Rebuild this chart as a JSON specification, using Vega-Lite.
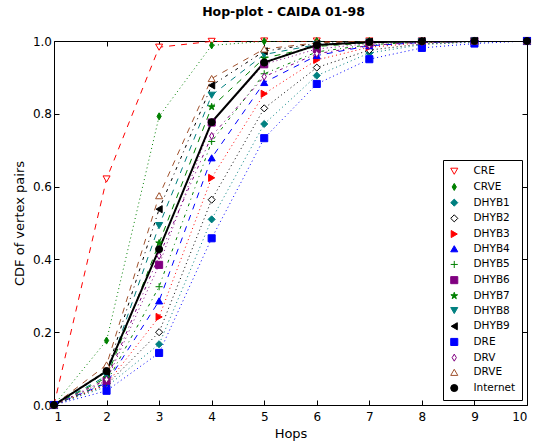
{
  "$schema": "https://vega.github.io/schema/vega-lite/v6.json",
  "width": 473,
  "height": 364,
  "autosize": {"type": "none"},
  "padding": {"left": 54, "top": 41, "right": 10, "bottom": 40},
  "background": "white",
  "title": {"text": "Hop-plot - CAIDA 01-98", "font": "DejaVu Sans", "fontSize": 12.5, "fontWeight": "bold", "color": "black", "offset": 17, "anchor": "middle", "dx": -7},
  "config": {
    "view": {"stroke": "black", "strokeWidth": 1},
    "font": "DejaVu Sans",
    "axis": {"labelFont": "DejaVu Sans", "labelFontSize": 12, "labelColor": "black", "titleFont": "DejaVu Sans", "titleFontSize": 13, "titleFontWeight": "normal", "titleColor": "black", "grid": false, "domain": false, "tickColor": "black", "tickSize": -5, "tickWidth": 1},
    "legend": {"title": null, "orient": "bottom-right", "offset": 5, "strokeColor": "black", "fillColor": "white", "padding": 6, "labelFont": "DejaVu Sans", "labelFontSize": 10.5, "labelColor": "black", "rowPadding": 3.7, "symbolSize": 50, "symbolStrokeWidth": 1, "labelOffset": 14, "cornerRadius": 0}
  },
  "data": {"values": [
    {"s":"CRE","h":1,"v":0},{"s":"CRE","h":2,"v":0.621},{"s":"CRE","h":3,"v":0.983},{"s":"CRE","h":4,"v":0.999},{"s":"CRE","h":5,"v":1},{"s":"CRE","h":6,"v":1},{"s":"CRE","h":7,"v":1},{"s":"CRE","h":8,"v":1},{"s":"CRE","h":9,"v":1},{"s":"CRE","h":10,"v":1},
    {"s":"CRVE","h":1,"v":0},{"s":"CRVE","h":2,"v":0.177},{"s":"CRVE","h":3,"v":0.793},{"s":"CRVE","h":4,"v":0.988},{"s":"CRVE","h":5,"v":0.999},{"s":"CRVE","h":6,"v":1},{"s":"CRVE","h":7,"v":1},{"s":"CRVE","h":8,"v":1},{"s":"CRVE","h":9,"v":1},{"s":"CRVE","h":10,"v":1},
    {"s":"DHYB1","h":1,"v":0},{"s":"DHYB1","h":2,"v":0.05},{"s":"DHYB1","h":3,"v":0.167},{"s":"DHYB1","h":4,"v":0.51},{"s":"DHYB1","h":5,"v":0.772},{"s":"DHYB1","h":6,"v":0.905},{"s":"DHYB1","h":7,"v":0.967},{"s":"DHYB1","h":8,"v":0.99},{"s":"DHYB1","h":9,"v":0.997},{"s":"DHYB1","h":10,"v":1},
    {"s":"DHYB2","h":1,"v":0},{"s":"DHYB2","h":2,"v":0.055},{"s":"DHYB2","h":3,"v":0.2},{"s":"DHYB2","h":4,"v":0.564},{"s":"DHYB2","h":5,"v":0.815},{"s":"DHYB2","h":6,"v":0.927},{"s":"DHYB2","h":7,"v":0.975},{"s":"DHYB2","h":8,"v":0.992},{"s":"DHYB2","h":9,"v":0.998},{"s":"DHYB2","h":10,"v":1},
    {"s":"DHYB3","h":1,"v":0},{"s":"DHYB3","h":2,"v":0.057},{"s":"DHYB3","h":3,"v":0.242},{"s":"DHYB3","h":4,"v":0.624},{"s":"DHYB3","h":5,"v":0.855},{"s":"DHYB3","h":6,"v":0.948},{"s":"DHYB3","h":7,"v":0.983},{"s":"DHYB3","h":8,"v":0.995},{"s":"DHYB3","h":9,"v":0.999},{"s":"DHYB3","h":10,"v":1},
    {"s":"DHYB4","h":1,"v":0},{"s":"DHYB4","h":2,"v":0.06},{"s":"DHYB4","h":3,"v":0.286},{"s":"DHYB4","h":4,"v":0.679},{"s":"DHYB4","h":5,"v":0.886},{"s":"DHYB4","h":6,"v":0.96},{"s":"DHYB4","h":7,"v":0.987},{"s":"DHYB4","h":8,"v":0.996},{"s":"DHYB4","h":9,"v":0.999},{"s":"DHYB4","h":10,"v":1},
    {"s":"DHYB5","h":1,"v":0},{"s":"DHYB5","h":2,"v":0.062},{"s":"DHYB5","h":3,"v":0.325},{"s":"DHYB5","h":4,"v":0.724},{"s":"DHYB5","h":5,"v":0.91},{"s":"DHYB5","h":6,"v":0.97},{"s":"DHYB5","h":7,"v":0.99},{"s":"DHYB5","h":8,"v":0.997},{"s":"DHYB5","h":9,"v":0.999},{"s":"DHYB5","h":10,"v":1},
    {"s":"DHYB6","h":1,"v":0},{"s":"DHYB6","h":2,"v":0.067},{"s":"DHYB6","h":3,"v":0.385},{"s":"DHYB6","h":4,"v":0.776},{"s":"DHYB6","h":5,"v":0.936},{"s":"DHYB6","h":6,"v":0.978},{"s":"DHYB6","h":7,"v":0.993},{"s":"DHYB6","h":8,"v":0.998},{"s":"DHYB6","h":9,"v":1},{"s":"DHYB6","h":10,"v":1},
    {"s":"DHYB7","h":1,"v":0},{"s":"DHYB7","h":2,"v":0.075},{"s":"DHYB7","h":3,"v":0.445},{"s":"DHYB7","h":4,"v":0.819},{"s":"DHYB7","h":5,"v":0.953},{"s":"DHYB7","h":6,"v":0.985},{"s":"DHYB7","h":7,"v":0.995},{"s":"DHYB7","h":8,"v":0.999},{"s":"DHYB7","h":9,"v":1},{"s":"DHYB7","h":10,"v":1},
    {"s":"DHYB8","h":1,"v":0},{"s":"DHYB8","h":2,"v":0.08},{"s":"DHYB8","h":3,"v":0.493},{"s":"DHYB8","h":4,"v":0.851},{"s":"DHYB8","h":5,"v":0.963},{"s":"DHYB8","h":6,"v":0.99},{"s":"DHYB8","h":7,"v":0.997},{"s":"DHYB8","h":8,"v":0.999},{"s":"DHYB8","h":9,"v":1},{"s":"DHYB8","h":10,"v":1},
    {"s":"DHYB9","h":1,"v":0},{"s":"DHYB9","h":2,"v":0.09},{"s":"DHYB9","h":3,"v":0.538},{"s":"DHYB9","h":4,"v":0.878},{"s":"DHYB9","h":5,"v":0.972},{"s":"DHYB9","h":6,"v":0.993},{"s":"DHYB9","h":7,"v":0.998},{"s":"DHYB9","h":8,"v":1},{"s":"DHYB9","h":9,"v":1},{"s":"DHYB9","h":10,"v":1},
    {"s":"DRE","h":1,"v":0},{"s":"DRE","h":2,"v":0.039},{"s":"DRE","h":3,"v":0.143},{"s":"DRE","h":4,"v":0.458},{"s":"DRE","h":5,"v":0.733},{"s":"DRE","h":6,"v":0.882},{"s":"DRE","h":7,"v":0.95},{"s":"DRE","h":8,"v":0.981},{"s":"DRE","h":9,"v":0.993},{"s":"DRE","h":10,"v":1},
    {"s":"DRV","h":1,"v":0},{"s":"DRV","h":2,"v":0.07},{"s":"DRV","h":3,"v":0.41},{"s":"DRV","h":4,"v":0.739},{"s":"DRV","h":5,"v":0.902},{"s":"DRV","h":6,"v":0.965},{"s":"DRV","h":7,"v":0.988},{"s":"DRV","h":8,"v":0.997},{"s":"DRV","h":9,"v":0.999},{"s":"DRV","h":10,"v":1},
    {"s":"DRVE","h":1,"v":0},{"s":"DRVE","h":2,"v":0.11},{"s":"DRVE","h":3,"v":0.575},{"s":"DRVE","h":4,"v":0.897},{"s":"DRVE","h":5,"v":0.978},{"s":"DRVE","h":6,"v":0.995},{"s":"DRVE","h":7,"v":0.999},{"s":"DRVE","h":8,"v":1},{"s":"DRVE","h":9,"v":1},{"s":"DRVE","h":10,"v":1},
    {"s":"Internet","h":1,"v":0},{"s":"Internet","h":2,"v":0.093},{"s":"Internet","h":3,"v":0.428},{"s":"Internet","h":4,"v":0.777},{"s":"Internet","h":5,"v":0.941},{"s":"Internet","h":6,"v":0.989},{"s":"Internet","h":7,"v":0.997},{"s":"Internet","h":8,"v":0.999},{"s":"Internet","h":9,"v":1},{"s":"Internet","h":10,"v":1}
  ]},
  "resolve": {"axis": {"x": "independent", "y": "independent"}},
  "layer": [
    {
      "mark": {"type": "line", "clip": true},
      "encoding": {
        "x": {"field": "h", "type": "quantitative", "scale": {"domain": [1, 10], "nice": false, "zero": false}, "axis": {"title": "Hops", "values": [1,2,3,4,5,6,7,8,9,10], "format": "d", "labelPadding": 11, "titlePadding": 5, "orient": "bottom"}},
        "y": {"field": "v", "type": "quantitative", "scale": {"domain": [0, 1], "nice": false}, "axis": {"title": "CDF of vertex pairs", "values": [0,0.2,0.4,0.6,0.8,1], "format": ".1f", "labelPadding": 7.5, "titlePadding": 6, "orient": "left"}},
        "stroke": {"field": "s", "type": "nominal", "scale": {"domain": ["CRE","CRVE","DHYB1","DHYB2","DHYB3","DHYB4","DHYB5","DHYB6","DHYB7","DHYB8","DHYB9","DRE","DRV","DRVE","Internet"], "range": ["#ff0000","#008000","#008080","#000000","#ff0000","#0000ff","#008000","#800080","#008000","#008080","#000000","#0000ff","#800080","#a0522d","#000000"]}},
        "strokeDash": {"condition": [
          {"test": "indexof(['CRE','DHYB4','DHYB7','DHYB8','DRVE'], datum.s) >= 0", "value": [6,6]},
          {"test": "indexof(['DHYB5','DHYB9','DRV'], datum.s) >= 0", "value": [3,4,1,4]},
          {"test": "datum.s === 'Internet'", "value": [1,0]}
        ], "value": [1,3]},
        "strokeWidth": {"condition": {"test": "datum.s === 'Internet'", "value": 2}, "value": 1}
      }
    },
    {
      "mark": {"type": "point", "clip": false, "opacity": 1, "strokeWidth": 1},
      "encoding": {
        "x": {"field": "h", "type": "quantitative", "axis": {"orient": "top", "title": null, "labels": false, "values": [1,2,3,4,5,6,7,8,9,10]}},
        "y": {"field": "v", "type": "quantitative", "axis": {"orient": "right", "title": null, "labels": false, "values": [0,0.2,0.4,0.6,0.8,1]}},
        "stroke": {"field": "s", "type": "nominal"},
        "fill": {"field": "s", "type": "nominal", "scale": {"domain": ["CRE","CRVE","DHYB1","DHYB2","DHYB3","DHYB4","DHYB5","DHYB6","DHYB7","DHYB8","DHYB9","DRE","DRV","DRVE","Internet"], "range": ["#ffffff","#008000","#008080","#ffffff","#ff0000","#0000ff","#008000","#800080","#008000","#008080","#000000","#0000ff","#ffffff","#ffffff","#000000"]}},
        "shape": {"field": "s", "type": "nominal", "scale": {"domain": ["CRE","CRVE","DHYB1","DHYB2","DHYB3","DHYB4","DHYB5","DHYB6","DHYB7","DHYB8","DHYB9","DRE","DRV","DRVE","Internet"], "range": ["triangle-down","M0,-1L0.6,0L0,1L-0.6,0Z","diamond","diamond","triangle-right","triangle-up","M-1,0L1,0M0,-1L0,1","square","M0,-1L0.2245,-0.309L0.9511,-0.309L0.3633,0.118L0.5878,0.809L0,0.382L-0.5878,0.809L-0.3633,0.118L-0.9511,-0.309L-0.2245,-0.309Z","triangle-down","triangle-left","square","M0,-1L0.6,0L0,1L-0.6,0Z","triangle-up","circle"]}},
        "size": {"value": 50}
      }
    }
  ]
}
